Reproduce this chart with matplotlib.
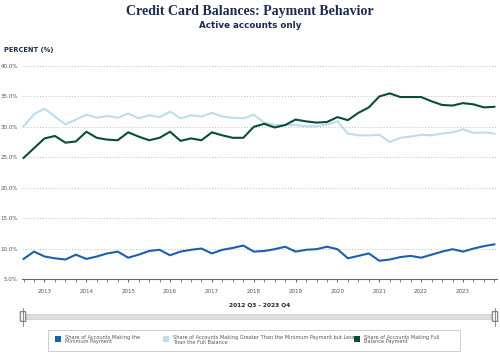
import matplotlib.pyplot as plt
from matplotlib.patches import Rectangle, FancyBboxPatch
from matplotlib.lines import Line2D

# quarterly data, 2012 Q3 - 2023 Q4
quarters = [f"{y} Q{q}" for y in range(2012, 2024) for q in range(1, 5)][2:]

min_payment = [8.3, 9.5, 8.7, 8.4, 8.2, 9.0, 8.3, 8.7, 9.2, 9.5, 8.5, 9.0, 9.6, 9.8, 8.9, 9.5,
               9.8, 10.0, 9.2, 9.8, 10.1, 10.5, 9.5, 9.6, 9.9, 10.3, 9.5, 9.8, 9.9, 10.3, 9.9, 8.4,
               8.8, 9.2, 8.0, 8.2, 8.6, 8.8, 8.5, 9.0, 9.5, 9.9, 9.5, 10.0, 10.4, 10.7]
more_than_min = [30.1, 32.1, 33.0, 31.7, 30.4, 31.2, 32.0, 31.5, 31.8, 31.5, 32.2, 31.4, 31.9, 31.6, 32.5, 31.4,
                 31.9, 31.7, 32.3, 31.7, 31.5, 31.4, 32.0, 30.7, 30.3, 30.3, 30.3, 30.1, 30.1, 30.4, 30.9, 28.9,
                 28.6, 28.6, 28.7, 27.5, 28.2, 28.4, 28.7, 28.6, 28.9, 29.1, 29.6, 29.0, 29.1, 28.9]
full_balance = [24.9, 26.5, 28.1, 28.5, 27.4, 27.6, 29.2, 28.2, 27.9, 27.8, 29.1, 28.4, 27.8, 28.2, 29.2, 27.7,
                28.1, 27.8, 29.1, 28.6, 28.2, 28.2, 30.0, 30.5, 29.9, 30.3, 31.2, 30.9, 30.7, 30.8, 31.6, 31.1,
                32.3, 33.2, 35.0, 35.5, 34.9, 34.9, 34.9, 34.2, 33.6, 33.5, 33.9, 33.7, 33.2, 33.3]

labels = ["Share of Accounts Making the\nMinimum Payment",
          "Share of Accounts Making Greater Than the Minimum Payment but Less\nThan the Full Balance",
          "Share of Accounts Making Full\nBalance Payment"]
colors = ["#1c5fab", "#bddcf0", "#0b4b3b"]
yticks = [5, 10, 15, 20, 25, 30, 35, 40]
years = list(range(2013, 2024))

navy = "#1b2a4e"
W, H = 500, 358
fig = plt.figure(figsize=(5, 3.58), dpi=100)

fig.text(0.5, 1 - 11 / H, "Credit Card Balances: Payment Behavior", ha="center", va="center",
         family="Liberation Serif", weight="bold", fontsize=10, color=navy)
fig.text(0.5, 1 - 25 / H, "Active accounts only", ha="center", va="center",
         weight="bold", fontsize=6.3, color=navy)
fig.text(4 / W, 1 - 50 / H, "PERCENT (%)", ha="left", va="center", weight="bold", fontsize=4.8, color=navy)

ax = fig.add_axes([22 / W, 1 - 279 / H, 475 / W, 213 / H])
x = list(range(len(quarters)))
series = [min_payment, more_than_min, full_balance]
for s, c, lab in zip(series, colors, labels):
    ax.plot(x, s, color=c, lw=1.5, label=lab)

ax.set_xlim(-0.15, 45.25)
ax.set_ylim(5, 40)
ax.set_yticks(yticks)
ax.set_yticklabels([f"{v:.1f}%" for v in yticks], fontsize=4, color="#555555")
ax.yaxis.grid(True, ls=(0, (1, 2)), color="#bbbbbb", lw=0.7)
for sp in ["top", "right", "left"]:
    ax.spines[sp].set_visible(False)
ax.spines["bottom"].set_color("#666666")
ax.spines["bottom"].set_linewidth(0.8)
ax.tick_params(axis="y", length=0, pad=3)
ax.set_xticks([quarters.index(f"{y} Q1") for y in years])
ax.set_xticklabels([str(y) for y in years], fontsize=4, color="#555555")
ax.set_xticks(x, minor=True)
ax.tick_params(axis="x", which="both", length=2, color="#666666", pad=5)
ax.set_xlabel(f"{quarters[0]} - {quarters[-1]}", fontsize=4.2, weight="bold", color="#222222", labelpad=6)

# range slider under the chart
sl = fig.add_axes([0, 0, 1, 1], facecolor="none")
sl.set_xlim(0, W)
sl.set_ylim(H, 0)
sl.axis("off")
sl.add_patch(Rectangle((22, 314), 475, 5, facecolor="#dddddd", edgecolor="#c8c8c8", lw=0.5))
for hx in [23, 495]:
    sl.add_line(Line2D([hx, hx], [308, 326], color="#777777", lw=0.6))
    sl.add_patch(FancyBboxPatch((hx - 2.5, 312), 5, 9, boxstyle="round,pad=0.3",
                                facecolor="#f2f2f2", edgecolor="#555555", lw=0.6))

# legend box
sl.add_patch(Rectangle((48, 330), 412, 21, facecolor="white", edgecolor="#cccccc", lw=0.7))
for lx, c, lab in zip([55, 163, 354], colors, labels):
    sl.add_patch(Rectangle((lx, 336), 6, 6, facecolor=c, edgecolor="none"))
    sl.text(lx + 10, 339.5, lab, fontsize=3.6, color="#555555", va="center", ha="left", linespacing=1.0)

fig.savefig("out.png", dpi=100)
